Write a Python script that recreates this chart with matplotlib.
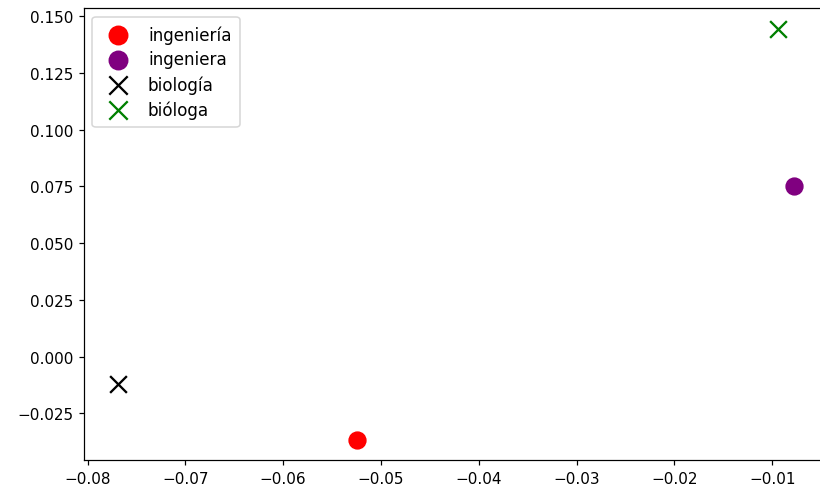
import matplotlib
matplotlib.use("Agg")
import matplotlib.pyplot as plt

# word embedding coordinates (2D projection)
labels = ["ingeniería", "ingeniera", "biología", "bióloga"]
xs = [-0.0524, -0.0078, -0.0769, -0.0094]
ys = [-0.0367, 0.0750, -0.0121, 0.1444]
colors = ["red", "purple", "black", "green"]
markers = ["o", "o", "x", "x"]

DPI = 110
fig = plt.figure(figsize=(820 / DPI, 496 / DPI), dpi=DPI)
ax = fig.add_axes([0.1025, 0.0698, 0.9066, 0.9113])

for lab, x, y, c, m in zip(labels, xs, ys, colors, markers):
    ax.scatter(x, y, s=120, c=c, marker=m, label=lab)

ax.legend(loc="upper left", fontsize=11, markerscale=1.1,
          labelspacing=0.4, borderpad=0.5)

fig.savefig("out.png", dpi=DPI)
